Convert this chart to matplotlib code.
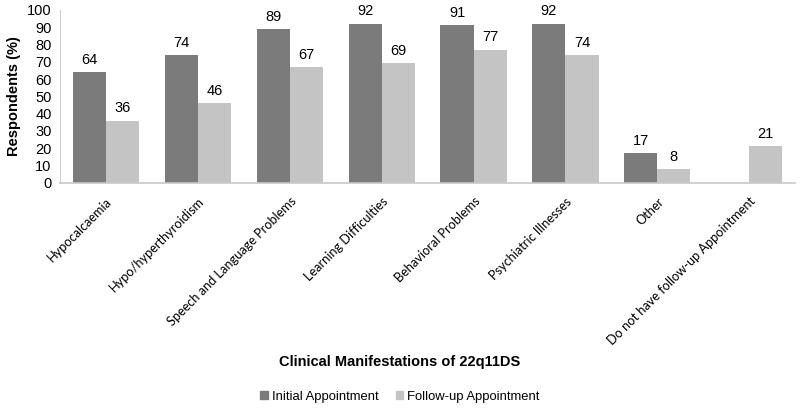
import numpy as np
import matplotlib
matplotlib.use("Agg")
import matplotlib.pyplot as plt
from matplotlib.patches import Patch

plt.rcParams['font.family'] = ['Liberation Sans', 'DejaVu Sans']

categories = ['Hypocalcaemia', 'Hypo/hyperthyroidism', 'Speech and Language Problems',
              'Learning Difficulties', 'Behavioral Problems', 'Psychiatric Illnesses',
              'Other', 'Do not have follow-up Appointment']
initial = [64, 74, 89, 92, 91, 92, 17, np.nan]
followup = [36, 46, 67, 69, 77, 74, 8, 21]
series_names = ['Initial Appointment', 'Follow-up Appointment']

dark = '#7b7b7b'
light = '#c4c4c4'

fig = plt.figure(figsize=(8, 4.09), dpi=100)
ax = fig.add_axes([0.075, 0.553, 0.919, 0.423])

x = np.arange(len(categories))
w = 0.36
ax.bar(x - w/2, initial, w, color=dark)
ax.bar(x + w/2, followup, w, color=light)

for xi, v in zip(x, initial):
    if not np.isnan(v):
        ax.text(xi - w/2, v + 3, str(int(v)), ha='center', va='bottom', fontsize=10.5)
for xi, v in zip(x, followup):
    ax.text(xi + w/2, v + 3, str(int(v)), ha='center', va='bottom', fontsize=10.5)

ax.set_xlim(-0.5, len(categories) - 0.5)
ax.set_ylim(0, 100)
ax.set_yticks(range(0, 101, 10))
ax.tick_params(axis='y', length=0, labelsize=10.5, pad=6)
ax.tick_params(axis='x', length=0, pad=9)
ax.set_xticks(x)
ax.set_xticklabels(categories, rotation=45, ha='right', rotation_mode='anchor',
                   family=['Lato', 'DejaVu Sans'], fontsize=9.2)

for s in ['top', 'right']:
    ax.spines[s].set_visible(False)
ax.spines['left'].set_color('#d0d0d0')
ax.spines['bottom'].set_color('#c8c8c8')
ax.spines['bottom'].set_linewidth(1.2)

ax.set_ylabel('Respondents (%)', fontsize=10.5, fontweight='bold', labelpad=4)
fig.text(0.5, 0.115, 'Clinical Manifestations of 22q11DS', ha='center', va='center',
         fontsize=10.5, fontweight='bold')

handles = [Patch(color=dark), Patch(color=light)]
fig.legend(handles, series_names, loc='center', bbox_to_anchor=(0.5, 0.03), ncol=2,
           frameon=False, fontsize=9.4, handlelength=0.6, handleheight=0.6,
           handletextpad=0.3, columnspacing=1.3)

fig.savefig('out.png', dpi=100)
